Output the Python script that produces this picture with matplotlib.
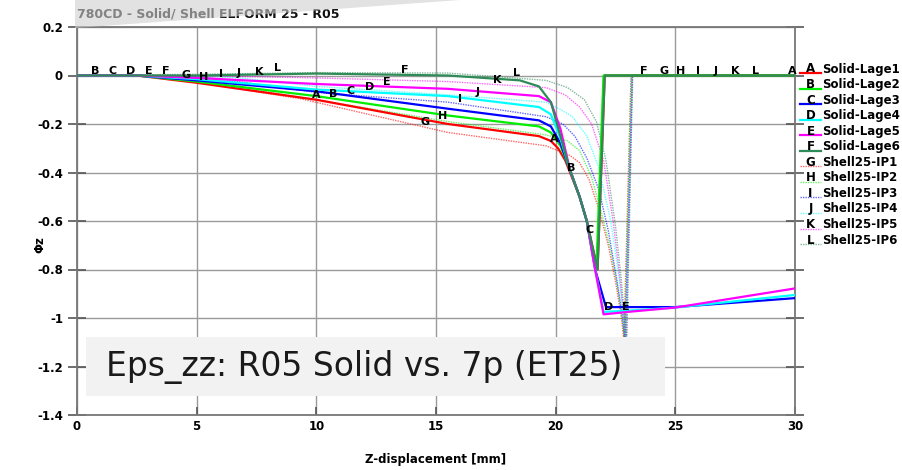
import numpy as np
import matplotlib.pyplot as plt
from matplotlib.patches import Polygon, Rectangle
from matplotlib.lines import Line2D

# solid element curves (Lage 1-6)
z_A = [0, 2.5, 5, 10, 15.5, 19.3, 19.8, 20.1, 20.4, 21.0, 21.3, 21.75, 22.05, 30]
phi_A = [0, 0, -0.03, -0.10, -0.20, -0.25, -0.27, -0.30, -0.35, -0.50, -0.60, -0.80, 0, 0]
z_B = [0, 2.5, 5, 10, 15.5, 19.3, 19.8, 20.2, 20.6, 21.0, 21.3, 21.7, 22.0, 30]
phi_B = [0, 0, -0.025, -0.085, -0.165, -0.21, -0.235, -0.29, -0.39, -0.50, -0.60, -0.80, 0, 0]
z_C = [0, 2.5, 5, 10, 15.5, 19.3, 19.8, 20.2, 20.6, 21.0, 21.3, 21.65, 22.1, 25, 30]
phi_C = [0, 0, -0.02, -0.065, -0.137, -0.185, -0.21, -0.28, -0.39, -0.50, -0.60, -0.80, -0.955, -0.955, -0.918]
z_D = [0, 2.5, 5, 10, 15.5, 19.3, 19.8, 20.2, 20.6, 21.0, 21.3, 21.65, 22.0, 23, 25, 30]
phi_D = [0, 0, -0.015, -0.058, -0.085, -0.13, -0.16, -0.26, -0.39, -0.50, -0.60, -0.80, -0.975, -0.97, -0.957, -0.905]
z_E = [0, 2.5, 5, 10, 15.5, 19.3, 19.8, 20.2, 20.6, 21.0, 21.3, 21.65, 22.0, 23, 25, 30]
phi_E = [0, 0, -0.01, -0.035, -0.055, -0.085, -0.11, -0.22, -0.39, -0.50, -0.60, -0.80, -0.985, -0.975, -0.957, -0.878]
z_F = [0, 5, 10, 15.5, 18.5, 19.3, 19.8, 20.2, 20.6, 21.0, 21.3, 21.75, 22.05, 30]
phi_F = [0, 0, 0.008, 0.0, -0.02, -0.045, -0.11, -0.25, -0.39, -0.50, -0.60, -0.80, 0, 0]

# shell ELFORM 25 curves (integration points 1-6)
z_G = [0, 3.5, 5, 9.3, 15.5, 19.6, 20.6, 21.0, 21.4, 21.8, 22.2, 22.5, 22.75, 22.85, 23.15, 30]
phi_G = [0, 0, -0.028, -0.095, -0.235, -0.29, -0.33, -0.36, -0.43, -0.55, -0.70, -0.85, -1.0, -1.09, 0, 0]
z_H = [0, 4, 5, 10, 15.5, 19.6, 20.5, 21.0, 21.5, 21.9, 22.3, 22.6, 22.8, 22.88, 23.15, 30]
phi_H = [0, 0, -0.02, -0.10, -0.19, -0.245, -0.27, -0.31, -0.42, -0.56, -0.72, -0.88, -1.02, -1.09, 0, 0]
z_I = [0, 4.5, 6, 10, 15.5, 19.6, 20.3, 20.8, 21.3, 21.8, 22.2, 22.55, 22.8, 22.9, 23.2, 30]
phi_I = [0, 0, -0.015, -0.07, -0.11, -0.17, -0.2, -0.25, -0.34, -0.47, -0.64, -0.84, -1.0, -1.1, 0, 0]
z_J = [0, 5, 6.8, 10, 15.5, 19.6, 20.2, 20.7, 21.3, 21.8, 22.3, 22.6, 22.85, 22.93, 23.2, 30]
phi_J = [0, 0, -0.01, -0.045, -0.08, -0.11, -0.14, -0.17, -0.25, -0.38, -0.60, -0.80, -1.0, -1.1, 0, 0]
z_K = [0, 5, 10, 15.5, 19.6, 20.4, 21.0, 21.5, 22.0, 22.4, 22.7, 22.9, 22.95, 23.2, 30]
phi_K = [0, 0, -0.01, -0.025, -0.05, -0.08, -0.13, -0.2, -0.35, -0.6, -0.85, -1.05, -1.1, 0, 0]
z_L = [0, 5, 10, 15.5, 19.6, 20.5, 21.2, 21.7, 22.1, 22.5, 22.75, 22.92, 22.97, 23.22, 30]
phi_L = [0, 0.005, 0.012, 0.01, -0.02, -0.05, -0.1, -0.19, -0.35, -0.62, -0.85, -1.05, -1.1, 0, 0]

solid_names = ["Solid-Lage1", "Solid-Lage2", "Solid-Lage3", "Solid-Lage4", "Solid-Lage5", "Solid-Lage6"]
shell_names = ["Shell25-IP1", "Shell25-IP2", "Shell25-IP3", "Shell25-IP4", "Shell25-IP5", "Shell25-IP6"]
letters = list("ABCDEFGHIJKL")

# curve labels along the x axis (letter, z position)
label_letters = list("BCDEFGHIJKL") + list("ABCDEFGHIJKL") + list("ABCDEFGHIJKLA")
label_z = [0.75, 1.50, 2.26, 3.01, 3.72, 4.55, 5.31, 6.02, 6.77, 7.61, 8.36,
           9.99, 10.70, 11.41, 12.24, 12.95, 13.71, 14.54, 15.29, 16.00, 16.76, 17.55, 18.35,
           19.93, 20.64, 21.40, 22.23, 22.94, 23.69, 24.53, 25.24, 25.95, 26.70, 27.50, 28.33, 29.88]

colors = ['#ff0000', '#00ee00', '#0000ff', '#00ffff', '#ff00ff', '#2e8b57']

curves = {
    'A': (z_A, phi_A), 'B': (z_B, phi_B), 'C': (z_C, phi_C),
    'D': (z_D, phi_D), 'E': (z_E, phi_E), 'F': (z_F, phi_F),
    'G': (z_G, phi_G), 'H': (z_H, phi_H), 'I': (z_I, phi_I),
    'J': (z_J, phi_J), 'K': (z_K, phi_K), 'L': (z_L, phi_L),
}

W, H = 902, 470
fig = plt.figure(figsize=(W / 100, H / 100), dpi=100)
ax = fig.add_axes([77 / W, 1 - 415 / H, (795 - 77) / W, (415 - 27) / H])

shell_style = (0, (1.0, 0.8))
for i, key in enumerate(letters[6:]):
    z, p = curves[key]
    ax.plot(z, p, color=colors[i], lw=1.0, alpha=0.6, linestyle=shell_style, zorder=3)
for i, key in enumerate(letters[:6]):
    z, p = curves[key]
    ax.plot(z, p, color=colors[i], lw=1.6, zorder=4)

for let, zz in zip(label_letters, label_z):
    z, p = curves[let]
    yy = np.interp(zz, z, p)
    ax.text(zz, yy, let, ha='center', va='bottom', fontsize=8, fontweight='bold', zorder=6)

ax.set_xlim(0, 30)
ax.set_ylim(-1.4, 0.2)
ax.set_xticks(np.arange(0, 31, 5))
yt = np.round(np.arange(-1.4, 0.21, 0.2), 1) + 0.0
ax.set_yticks(yt)
ax.set_yticklabels(['0' if abs(v) < 1e-9 else '%g' % v for v in yt])
ax.grid(True, color='#9a9a9a', lw=1.0)
ax.set_axisbelow(True)
for s in ax.spines.values():
    s.set_color('#777777')
    s.set_linewidth(1.3)
ax.tick_params(axis='y', direction='inout', length=13, width=1.2, color='#555555', right=True)
ax.tick_params(axis='x', direction='in', length=6, width=1.2, color='#555555')
for t in ax.get_xticklabels() + ax.get_yticklabels():
    t.set_fontweight('bold')
    t.set_fontsize(8.5)
ax.set_xlabel('Z-displacement [mm]', fontsize=8.5, fontweight='bold')
ax.xaxis.set_label_coords(0.5, -(453 - 415) / (415 - 27))
ax.set_ylabel('Φz', fontsize=8.5, fontweight='bold')
ax.yaxis.set_label_coords(-(77 - 46) / (795 - 77), (415 - 245) / (415 - 27))

# annotation box
ax.add_patch(Rectangle((86 / W, 1 - 396 / H), (665 - 86) / W, (396 - 337) / H,
                       transform=fig.transFigure, facecolor='#f2f2f2', edgecolor='none', zorder=7))
fig.text(106 / W, 1 - 367 / H, 'Eps_zz: R05 Solid vs. 7p (ET25)', fontsize=23.8,
         va='center', ha='left', color='#1a1a1a', zorder=8)

# legend
for i, (let, name) in enumerate(zip(letters, solid_names + shell_names)):
    y = 1 - (69 + i * 15.55) / H
    col = colors[i % 6]
    if i < 6:
        fig.add_artist(Line2D([800 / W, 821 / W], [y - 4 / H, y - 4 / H], color=col, lw=1.6))
    else:
        fig.add_artist(Line2D([800 / W, 821 / W], [y - 4 / H, y - 4 / H], color=col, lw=1.0,
                              alpha=0.6, linestyle=shell_style))
    fig.text(810.5 / W, y, let, ha='center', va='center', fontsize=8.5, fontweight='bold')
    fig.text(822 / W, y, name, ha='left', va='center', fontsize=8.5, fontweight='bold')

# title with faded wedge on top
fig.text(77 / W, 1 - 14 / H, '780CD - Solid/ Shell ELFORM 25 - R05', fontsize=9,
         fontweight='bold', ha='left', va='center', color='#111111')
fig.add_artist(Polygon([[75 / W, 1.0], [460 / W, 1.0], [75 / W, 1 - 28 / H]], closed=True,
                       transform=fig.transFigure, facecolor='#cfcfcf', edgecolor='none',
                       alpha=0.6, zorder=10))

fig.savefig('out.png', dpi=100)
